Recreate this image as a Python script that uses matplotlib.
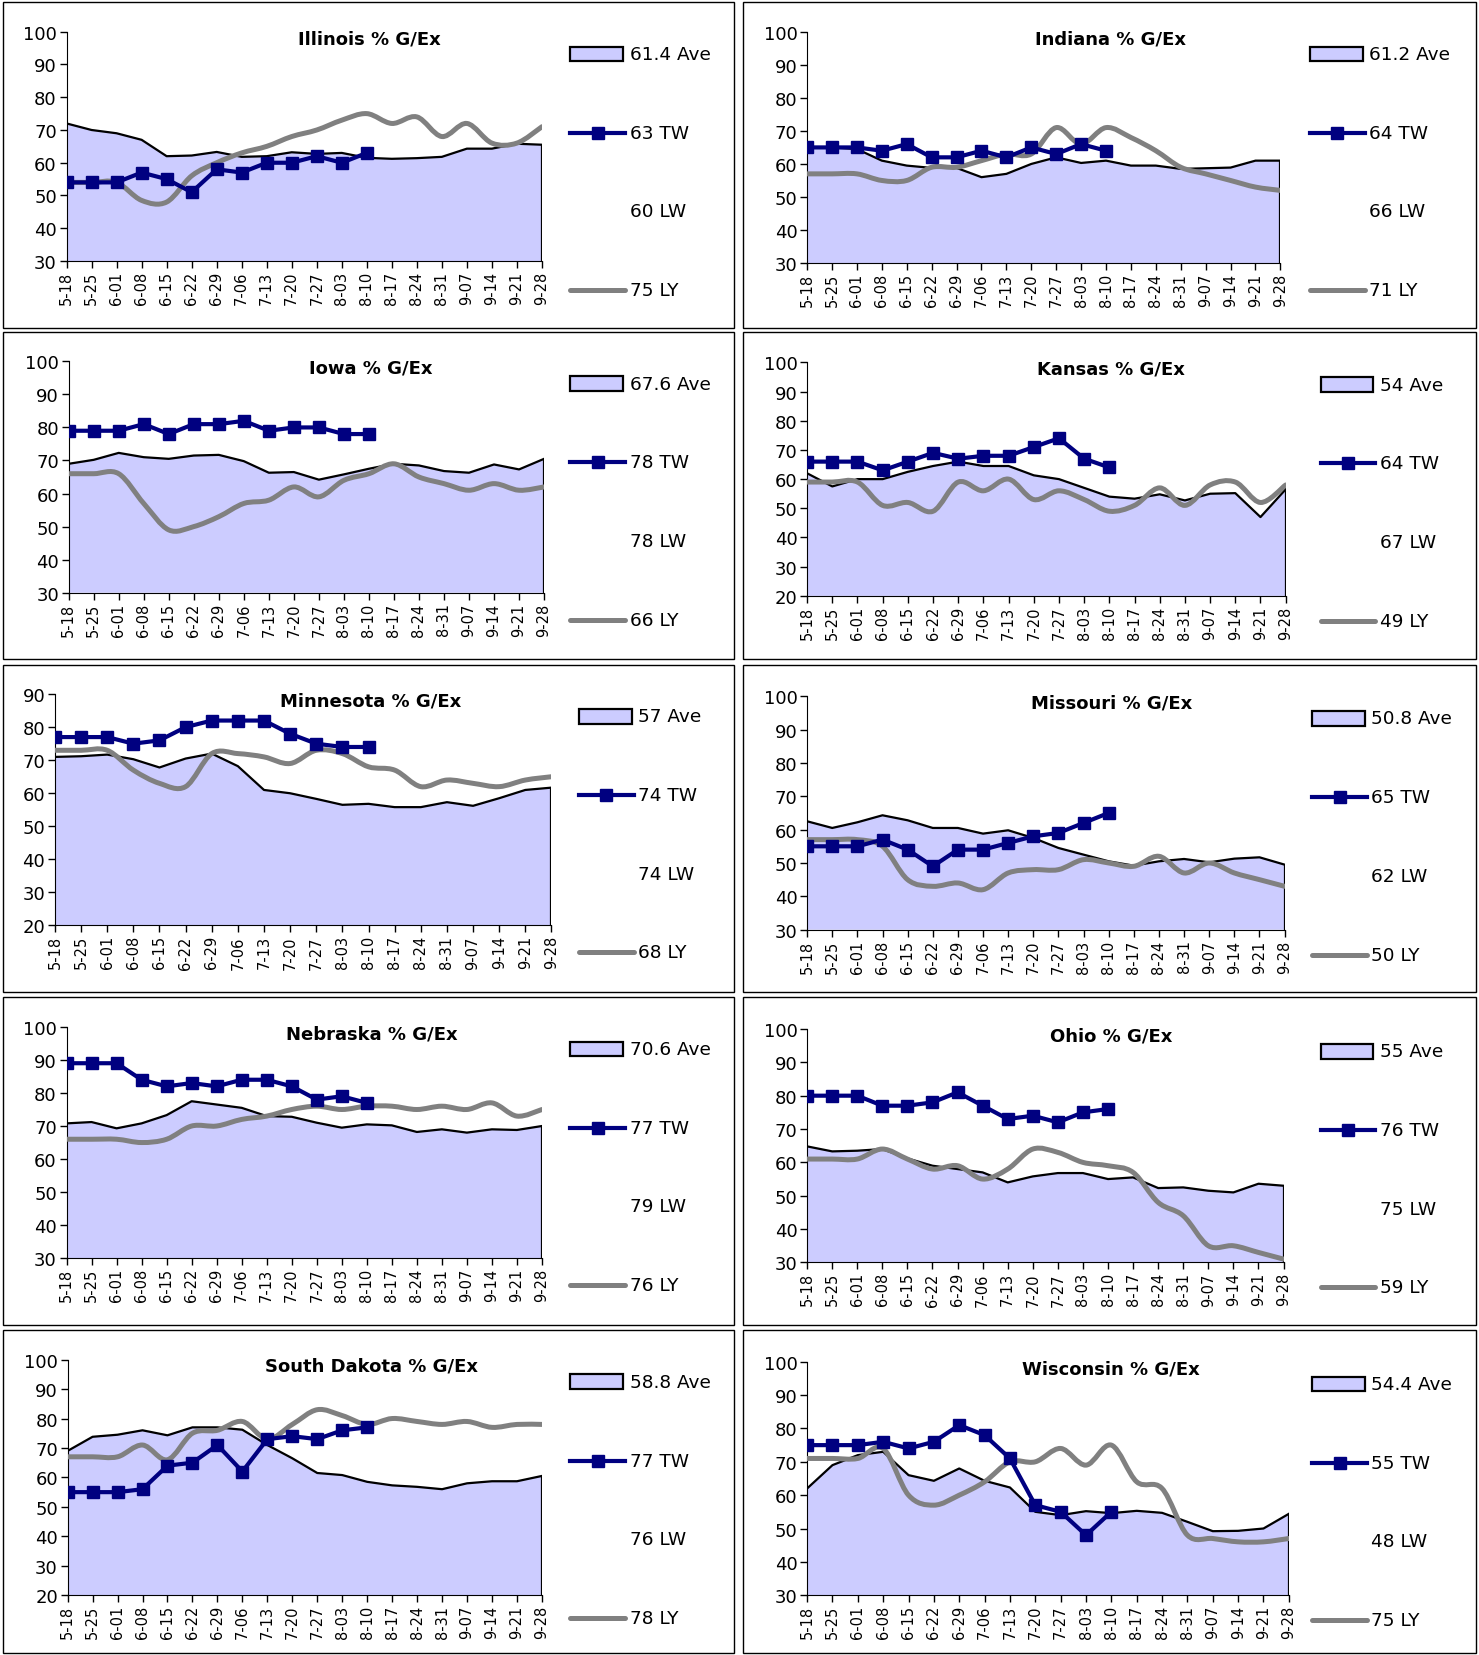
import matplotlib
matplotlib.use("Agg")
import matplotlib.pyplot as plt
from matplotlib.path import Path
from matplotlib.patches import PathPatch, Rectangle
from matplotlib.lines import Line2D

# weekly categories
weeks = ['5-18', '5-25', '6-01', '6-08', '6-15', '6-22', '6-29', '7-06', '7-13', '7-20',
         '7-27', '8-03', '8-10', '8-17', '8-24', '8-31', '9-07', '9-14', '9-21', '9-28']

# --- values (% good/excellent) ---
illinois_ave = [72, 70, 69, 67, 62, 62.2, 63.3, 61.8, 62, 63.2, 62.7, 63, 61.5, 61.2, 61.4, 61.8, 64.3, 64.3, 65.8, 65.5]
illinois_tw = [54, 54, 54, 57, 55, 51, 58, 57, 60, 60, 62, 60, 63]
illinois_ly = [54, 54, 54, 48.5, 48, 56, 60, 63, 65, 68, 70, 73, 75, 72, 74, 68, 72, 66, 66, 71]
illinois_leg = ['61.4 Ave', '63 TW', '60 LW', '75 LY']

indiana_ave = [65, 65, 64.5, 61, 59.5, 58.8, 58.8, 56, 57, 60, 62, 60.3, 61, 59.5, 59.5, 58.5, 58.7, 58.9, 61, 61]
indiana_tw = [65, 65, 65, 64, 66, 62, 62, 64, 62, 65, 63, 66, 64]
indiana_ly = [57, 57, 57, 55, 55, 59, 59, 61, 63, 63, 71, 66, 71, 68, 64, 59, 57, 55, 53, 52]
indiana_leg = ['61.2 Ave', '64 TW', '66 LW', '71 LY']

iowa_ave = [69, 70.2, 72.3, 71, 70.5, 71.5, 71.7, 69.8, 66.3, 66.5, 64.2, 65.8, 67.5, 69, 68.5, 66.8, 66.3, 68.8, 67.3, 70.5]
iowa_tw = [79, 79, 79, 81, 78, 81, 81, 82, 79, 80, 80, 78, 78]
iowa_ly = [66, 66, 66, 57, 49, 50, 53, 57, 58, 62, 59, 64, 66, 69, 65, 63, 61, 63, 61, 62]
iowa_leg = ['67.6 Ave', '78 TW', '78 LW', '66 LY']

kansas_ave = [62, 57.5, 60, 60, 62.5, 64.5, 66, 64.5, 64.5, 61.3, 60, 57, 54, 53.3, 54.8, 52.7, 55, 55.2, 47, 56.5]
kansas_tw = [66, 66, 66, 63, 66, 69, 67, 68, 68, 71, 74, 67, 64]
kansas_ly = [59, 59, 59, 51, 52, 49, 59, 56, 60, 53, 56, 53, 49, 51, 57, 51, 58, 59, 52, 58]
kansas_leg = ['54 Ave', '64 TW', '67 LW', '49 LY']

minnesota_ave = [71, 71.2, 71.7, 70.3, 67.8, 70.5, 72, 68.2, 61, 60, 58.3, 56.5, 56.8, 55.8, 55.8, 57.3, 56.2, 58.5, 61, 61.7]
minnesota_tw = [77, 77, 77, 75, 76, 80, 82, 82, 82, 78, 75, 74, 74]
minnesota_ly = [73, 73, 73, 67, 63, 62, 72, 72, 71, 69, 73, 72, 68, 67, 62, 64, 63, 62, 64, 65]
minnesota_leg = ['57 Ave', '74 TW', '74 LW', '68 LY']

missouri_ave = [62.5, 60.5, 62.2, 64.3, 62.8, 60.5, 60.5, 58.8, 59.8, 57.5, 54.5, 52.5, 50.5, 49.2, 50.5, 51.2, 50.2, 51.3, 51.7, 49.5]
missouri_tw = [55, 55, 55, 57, 54, 49, 54, 54, 56, 58, 59, 62, 65]
missouri_ly = [57, 57, 57, 55, 45, 43, 44, 42, 47, 48, 48, 51, 50, 49, 52, 47, 50, 47, 45, 43]
missouri_leg = ['50.8 Ave', '65 TW', '62 LW', '50 LY']

nebraska_ave = [70.8, 71.2, 69.3, 70.8, 73.3, 77.5, 76.5, 75.5, 73, 72.8, 71, 69.5, 70.5, 70.2, 68.2, 69, 68, 69, 68.8, 70]
nebraska_tw = [89, 89, 89, 84, 82, 83, 82, 84, 84, 82, 78, 79, 77]
nebraska_ly = [66, 66, 66, 65, 66, 70, 70, 72, 73, 75, 76, 75, 76, 76, 75, 76, 75, 77, 73, 75]
nebraska_leg = ['70.6 Ave', '77 TW', '79 LW', '76 LY']

ohio_ave = [64.8, 63.3, 63.5, 64, 61.2, 59, 58, 57, 54, 55.8, 56.8, 56.8, 55, 55.5, 52.3, 52.5, 51.5, 51, 53.6, 53]
ohio_tw = [80, 80, 80, 77, 77, 78, 81, 77, 73, 74, 72, 75, 76]
ohio_ly = [61, 61, 61, 64, 61, 58, 59, 55, 58, 64, 63, 60, 59, 57, 48, 44, 35, 35, 33, 31]
ohio_leg = ['55 Ave', '76 TW', '75 LW', '59 LY']

sdakota_ave = [69, 73.8, 74.5, 76, 74.3, 77, 77, 76.2, 71, 66.5, 61.5, 60.8, 58.5, 57.3, 56.8, 56, 58, 58.7, 58.7, 60.5]
sdakota_tw = [55, 55, 55, 56, 64, 65, 71, 62, 73, 74, 73, 76, 77]
sdakota_ly = [67, 67, 67, 71, 66, 75, 76, 79, 73, 78, 83, 81, 78, 80, 79, 78, 79, 77, 78, 78]
sdakota_leg = ['58.8 Ave', '77 TW', '76 LW', '78 LY']

wisconsin_ave = [62, 69, 72, 73, 66, 64.3, 68, 64.3, 62.3, 55, 54, 55.2, 54.6, 55.3, 54.7, 52, 49.2, 49.3, 50, 54.4]
wisconsin_tw = [75, 75, 75, 76, 74, 76, 81, 78, 71, 57, 55, 48, 55]
wisconsin_ly = [71, 71, 71, 74, 60, 57, 60, 64, 70, 70, 74, 69, 75, 64, 62, 48, 47, 46, 46, 47]
wisconsin_leg = ['54.4 Ave', '55 TW', '48 LW', '75 LY']

# layout in pixels of a 1400 wide reference: plot x0, x1, top, bottom, legend x
panels = [
    ('Illinois', illinois_ave, illinois_tw, illinois_ly, illinois_leg, (30, 100), (63, 513, 31, 248), 540, 350),
    ('Indiana', indiana_ave, indiana_tw, indiana_ly, indiana_leg, (30, 100), (764, 1212, 31, 250), 1240, 1051),
    ('Iowa', iowa_ave, iowa_tw, iowa_ly, iowa_leg, (30, 100), (65, 515, 343, 562), 540, 351),
    ('Kansas', kansas_ave, kansas_tw, kansas_ly, kansas_leg, (20, 100), (764, 1217, 344, 565), 1250, 1052),
    ('Minnesota', minnesota_ave, minnesota_tw, minnesota_ly, minnesota_leg, (20, 90), (52, 522, 658, 877), 548, 351),
    ('Missouri', missouri_ave, missouri_tw, missouri_ly, missouri_leg, (30, 100), (764, 1216, 660, 881), 1242, 1052),
    ('Nebraska', nebraska_ave, nebraska_tw, nebraska_ly, nebraska_leg, (30, 100), (63, 513, 973, 1192), 540, 352),
    ('Ohio', ohio_ave, ohio_tw, ohio_ly, ohio_leg, (30, 100), (764, 1215, 975, 1196), 1250, 1052),
    ('South Dakota', sdakota_ave, sdakota_tw, sdakota_ly, sdakota_leg, (20, 100), (64, 513, 1288, 1511), 540, 352),
    ('Wisconsin', wisconsin_ave, wisconsin_tw, wisconsin_ly, wisconsin_leg, (30, 100), (764, 1220, 1290, 1511), 1242, 1052),
]

W, H = 1400.0, 1567.6
AVE_COLOR = '#CCCCFF'
TW_COLOR = '#000080'
LY_COLOR = '#808080'
TW_LW, TW_MS, LY_LW = 3.0, 8.5, 3.6


def fx(x):
    return x / W


def fy(y):
    return 1 - y / H


def smooth_path(xs, ys):
    # excel style smoothed line, bezier segments through each point
    n = len(xs)
    verts = [(xs[0], ys[0])]
    codes = [Path.MOVETO]
    for i in range(n - 1):
        p0 = i - 1 if i > 0 else i
        p3 = i + 2 if i + 2 < n else i + 1
        c1 = (xs[i] + (xs[i + 1] - xs[p0]) / 6.0, ys[i] + (ys[i + 1] - ys[p0]) / 6.0)
        c2 = (xs[i + 1] - (xs[p3] - xs[i]) / 6.0, ys[i + 1] - (ys[p3] - ys[i]) / 6.0)
        verts += [c1, c2, (xs[i + 1], ys[i + 1])]
        codes += [Path.CURVE4] * 3
    return Path(verts, codes)


fig = plt.figure(figsize=(14.79, 16.56), dpi=100)

# panel frames
for r, (top, bot) in enumerate([(3, 311), (315, 625), (630, 940), (945, 1255), (1260, 1566)]):
    for (left, right) in [(3, 695), (703, 1397)]:
        fig.add_artist(Rectangle((fx(left), fy(bot)), fx(right - left), (bot - top) / H,
                                 transform=fig.transFigure, fill=False, edgecolor='black', lw=1))

for name, ave, tw, ly, leg, ylim, (x0, x1, top, bot), lx, tx in panels:
    ax = fig.add_axes([fx(x0), fy(bot), fx(x1 - x0), (bot - top) / H])
    x = list(range(len(weeks)))
    ax.fill_between(x, ylim[0], ave, facecolor=AVE_COLOR, edgecolor='none', zorder=1)
    ax.plot(x, ave, color='black', lw=1.6, zorder=2)
    ax.vlines(x[-1], ylim[0], ave[-1], color='black', lw=1.6, zorder=2)
    ax.add_patch(PathPatch(smooth_path(x, ly), facecolor='none', edgecolor=LY_COLOR, lw=LY_LW,
                           capstyle='round', joinstyle='round', zorder=3))
    ax.plot(x[:len(tw)], tw, color=TW_COLOR, lw=TW_LW, marker='s', markersize=TW_MS, zorder=4)

    ax.set_xlim(0, len(weeks) - 1)
    ax.set_ylim(*ylim)
    ax.set_yticks(range(ylim[0], ylim[1] + 1, 10))
    ax.set_xticks(x)
    ax.set_xticklabels(weeks, rotation=90, fontsize=10.5)
    ax.tick_params(axis='y', labelsize=13, length=5, width=1, pad=2)
    ax.tick_params(axis='x', length=5, width=1, pad=2)
    ax.spines['top'].set_visible(False)
    ax.spines['right'].set_visible(False)
    ax.patch.set_alpha(0)

    fig.text(fx(tx), fy(top + 6), name + ' % G/Ex', ha='center', va='center',
             fontsize=13, fontweight='bold')

    # legend, drawn by hand to keep the excel spacing
    ys = [top + 21 + 74.5 * k for k in range(4)]
    fig.add_artist(Rectangle((fx(lx), fy(ys[0] + 7)), fx(50), 14 / H, transform=fig.transFigure,
                             facecolor=AVE_COLOR, edgecolor='black', lw=1.6))
    fig.add_artist(Line2D([fx(lx), fx(lx + 52)], [fy(ys[1])] * 2, transform=fig.transFigure,
                          color=TW_COLOR, lw=TW_LW))
    fig.add_artist(Line2D([fx(lx + 26)], [fy(ys[1])], transform=fig.transFigure,
                          color=TW_COLOR, marker='s', markersize=TW_MS))
    fig.add_artist(Line2D([fx(lx), fx(lx + 52)], [fy(ys[3])] * 2, transform=fig.transFigure,
                          color=LY_COLOR, lw=LY_LW, solid_capstyle='round'))
    for k, label in enumerate(leg):
        fig.text(fx(lx + 56), fy(ys[k]), label, ha='left', va='center', fontsize=13.3)

fig.savefig('out.png', dpi=100)
